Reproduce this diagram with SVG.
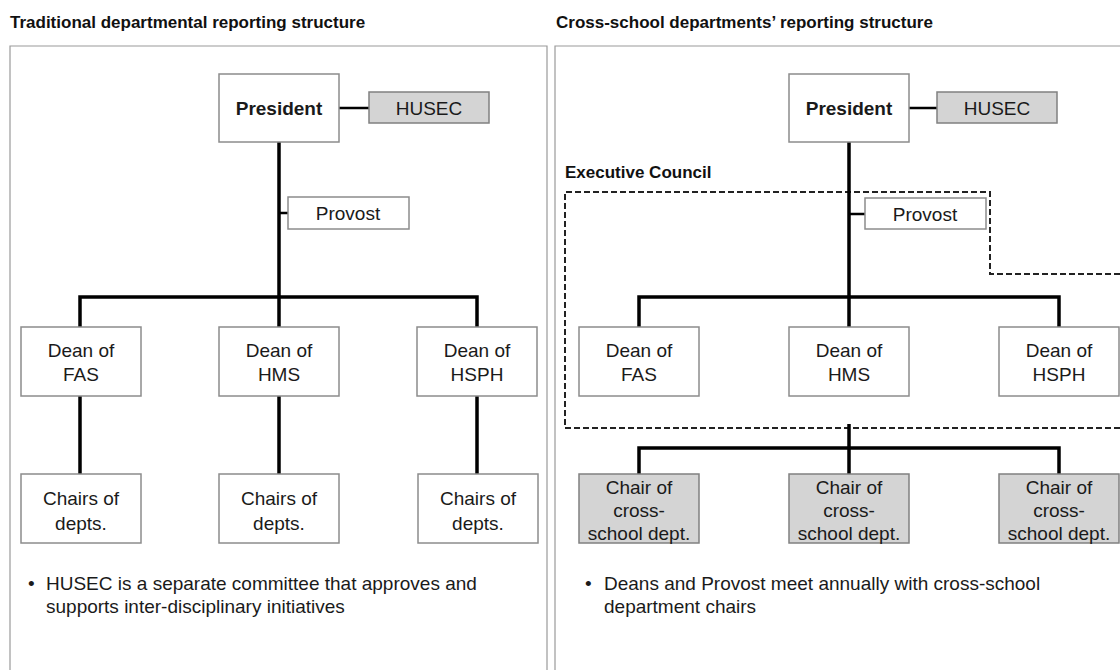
<svg xmlns="http://www.w3.org/2000/svg" width="1120" height="670" viewBox="0 0 1120 670">
<style>
.title{font-family:"Liberation Sans",Arial,sans-serif;font-size:17px;font-weight:bold;fill:#111}
.t{font-family:"Liberation Sans",Arial,sans-serif;font-size:19px;fill:#1a1a1a;text-anchor:middle}
.b{font-weight:bold}
.note{font-family:"Liberation Sans",Arial,sans-serif;font-size:19px;fill:#1a1a1a}
.box{fill:#fff;stroke:#8c8c8c;stroke-width:1.5}
.gbox{fill:#d4d4d4;stroke:#808080;stroke-width:1.5}
.panel{fill:none;stroke:#9a9a9a;stroke-width:1.2}
.c{fill:none;stroke:#000;stroke-width:3.5}
.c2{fill:none;stroke:#000;stroke-width:2.5}
.dash{fill:none;stroke:#222;stroke-width:2;stroke-dasharray:6 3}
</style>
<rect width="1120" height="670" fill="#fff"/>
<text class="title" x="10" y="28">Traditional departmental reporting structure</text>
<text class="title" x="556" y="28">Cross-school departments’ reporting structure</text>
<path class="panel" d="M10,670 V46 H547 V670"/>
<path class="panel" d="M555,670 V46 H1120"/>

<g id="exec-council">
<path class="dash" d="M1120,428 H565 V192 H990 V274 H1120"/>
<text class="title" x="565" y="178">Executive Council</text>
</g>

<g id="connectors">
<path class="c" d="M279,142 V297 M80,327 V297 H477 V327 M279,297 V327"/>
<path class="c2" d="M279,213 H288 M339,108 H369"/>
<path class="c" d="M80,396 V474 M279,396 V474 M477,396 V474"/>
<path class="c" d="M849,142 V297 M639,327 V297 H1059 V327 M849,297 V327"/>
<path class="c2" d="M849,214 H865 M909,108 H937"/>
<path class="c" d="M849,424 V474 M639,474 V448 H1059 V474"/>
</g>

<g id="L-president"><rect class="box" x="219" y="74" width="120" height="68"/><text class="t b" x="279" y="115">President</text></g>
<g id="L-husec"><rect class="gbox" x="369" y="92" width="120" height="31"/><text class="t" x="429" y="115">HUSEC</text></g>
<g id="L-provost"><rect class="box" x="288" y="197" width="121" height="32"/><text class="t" x="348" y="220">Provost</text></g>
<g id="L-dean-fas"><rect class="box" x="21" y="327" width="120" height="69"/><text class="t" x="81" y="357">Dean of</text><text class="t" x="81" y="381">FAS</text></g>
<g id="L-dean-hms"><rect class="box" x="219" y="327" width="120" height="69"/><text class="t" x="279" y="357">Dean of</text><text class="t" x="279" y="381">HMS</text></g>
<g id="L-dean-hsph"><rect class="box" x="417" y="327" width="120" height="69"/><text class="t" x="477" y="357">Dean of</text><text class="t" x="477" y="381">HSPH</text></g>
<g id="L-chairs-fas"><rect class="box" x="21" y="474" width="120" height="69"/><text class="t" x="81" y="505">Chairs of</text><text class="t" x="81" y="530">depts.</text></g>
<g id="L-chairs-hms"><rect class="box" x="219" y="474" width="120" height="69"/><text class="t" x="279" y="505">Chairs of</text><text class="t" x="279" y="530">depts.</text></g>
<g id="L-chairs-hsph"><rect class="box" x="418" y="474" width="120" height="69"/><text class="t" x="478" y="505">Chairs of</text><text class="t" x="478" y="530">depts.</text></g>
<g id="L-note"><text class="note" x="28" y="590">•</text><text class="note" x="46" y="590">HUSEC is a separate committee that approves and</text><text class="note" x="46" y="613">supports inter-disciplinary initiatives</text></g>

<g id="R-president"><rect class="box" x="789" y="74" width="120" height="68"/><text class="t b" x="849" y="115">President</text></g>
<g id="R-husec"><rect class="gbox" x="937" y="92" width="120" height="31"/><text class="t" x="997" y="115">HUSEC</text></g>
<g id="R-provost"><rect class="box" x="865" y="198" width="121" height="31"/><text class="t" x="925" y="221">Provost</text></g>
<g id="R-dean-fas"><rect class="box" x="579" y="327" width="120" height="69"/><text class="t" x="639" y="357">Dean of</text><text class="t" x="639" y="381">FAS</text></g>
<g id="R-dean-hms"><rect class="box" x="789" y="327" width="120" height="69"/><text class="t" x="849" y="357">Dean of</text><text class="t" x="849" y="381">HMS</text></g>
<g id="R-dean-hsph"><rect class="box" x="999" y="327" width="120" height="69"/><text class="t" x="1059" y="357">Dean of</text><text class="t" x="1059" y="381">HSPH</text></g>
<g id="R-chair-1"><rect class="gbox" x="579" y="474" width="120" height="69"/><text class="t" x="639" y="494">Chair of</text><text class="t" x="639" y="517">cross-</text><text class="t" x="639" y="540">school dept.</text></g>
<g id="R-chair-2"><rect class="gbox" x="789" y="474" width="120" height="69"/><text class="t" x="849" y="494">Chair of</text><text class="t" x="849" y="517">cross-</text><text class="t" x="849" y="540">school dept.</text></g>
<g id="R-chair-3"><rect class="gbox" x="999" y="474" width="120" height="69"/><text class="t" x="1059" y="494">Chair of</text><text class="t" x="1059" y="517">cross-</text><text class="t" x="1059" y="540">school dept.</text></g>
<g id="R-note"><text class="note" x="585" y="590">•</text><text class="note" x="604" y="590">Deans and Provost meet annually with cross-school</text><text class="note" x="604" y="613">department chairs</text></g>
</svg>
